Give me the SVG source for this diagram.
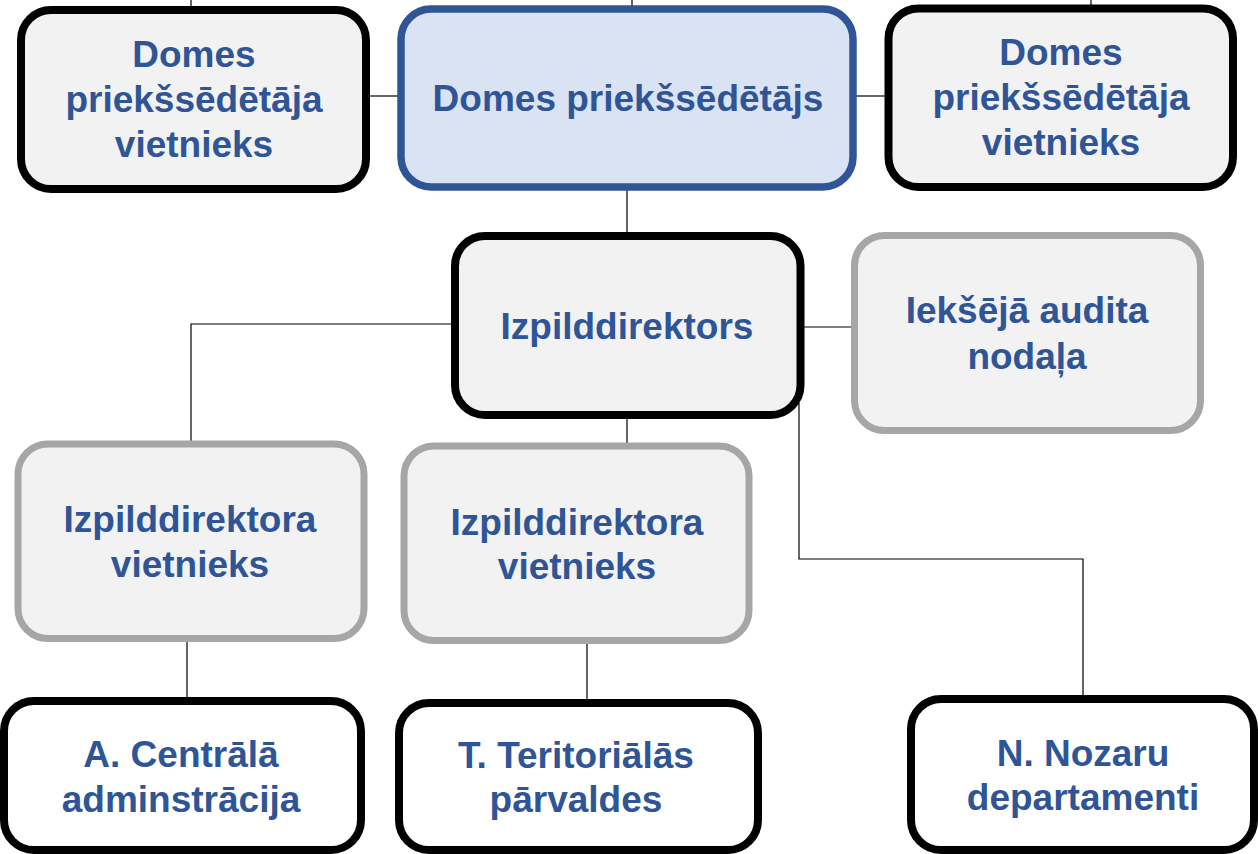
<svg xmlns="http://www.w3.org/2000/svg" width="1258" height="854" viewBox="0 0 1258 854">
<style>
.box{stroke-width:8}
.blk{stroke:#000}
.gry{stroke:#a6a6a6;stroke-width:7}
.blu{stroke:#2f5597;stroke-width:7.5}
.f1{fill:#f2f2f2}
.f2{fill:#dae3f3}
.f3{fill:#ffffff}
.t{font-family:"Liberation Sans",Arial,sans-serif;font-weight:bold;font-size:37px;fill:#2f5597;text-anchor:middle}
.c{fill:none;stroke:#000;stroke-width:1.2}
</style>
<rect width="1258" height="854" fill="#fff"/>
<g id="connectors">
<path class="c" d="M191 0V7"/>
<path class="c" d="M632 0V6"/>
<path class="c" d="M1091 0V5"/>
<path class="c" d="M369 96H398"/>
<path class="c" d="M856 96H885"/>
<path class="c" d="M627 190V233"/>
<path class="c" d="M452 324H191V441"/>
<path class="c" d="M803 327H852"/>
<path class="c" d="M627 418V443"/>
<path class="c" d="M799 403V559H1083V696"/>
<path class="c" d="M187 641V698"/>
<path class="c" d="M587 643V700"/>
</g>
<g id="node-vice1">
<rect class="box blk f1" x="21" y="10" width="345" height="179" rx="30"/>
<text class="t" x="194" y="67">Domes</text>
<text class="t" x="194" y="112">priekšsēdētāja</text>
<text class="t" x="194" y="157">vietnieks</text>
</g>
<g id="node-chair">
<rect class="box blu f2" x="401" y="9" width="452" height="178" rx="30"/>
<text class="t" x="628" y="111">Domes priekšsēdētājs</text>
</g>
<g id="node-vice2">
<rect class="box blk f1" x="888.5" y="8.5" width="344.5" height="178.5" rx="30"/>
<text class="t" x="1061" y="65">Domes</text>
<text class="t" x="1061" y="110">priekšsēdētāja</text>
<text class="t" x="1061" y="155">vietnieks</text>
</g>
<g id="node-director">
<rect class="box blk f1" x="455" y="236" width="345.5" height="179" rx="30"/>
<text class="t" x="627" y="339">Izpilddirektors</text>
</g>
<g id="node-audit">
<rect class="box gry f1" x="854.5" y="235.5" width="346" height="195" rx="30"/>
<text class="t" x="1027" y="323">Iekšējā audita</text>
<text class="t" x="1027" y="369">nodaļa</text>
</g>
<g id="node-deputy1">
<rect class="box gry f1" x="18" y="444" width="346" height="194.5" rx="30"/>
<text class="t" x="190" y="532">Izpilddirektora</text>
<text class="t" x="190" y="577">vietnieks</text>
</g>
<g id="node-deputy2">
<rect class="box gry f1" x="404" y="446" width="345" height="194.5" rx="30"/>
<text class="t" x="577" y="535">Izpilddirektora</text>
<text class="t" x="577" y="579">vietnieks</text>
</g>
<g id="node-a">
<rect class="box blk f3" x="4" y="701" width="357" height="149" rx="30"/>
<text class="t" x="181" y="767">A. Centrālā</text>
<text class="t" x="181" y="812">adminstrācija</text>
</g>
<g id="node-t">
<rect class="box blk f3" x="399" y="703" width="359" height="147" rx="30"/>
<text class="t" x="576" y="768">T. Teritoriālās</text>
<text class="t" x="576" y="812">pārvaldes</text>
</g>
<g id="node-n">
<rect class="box blk f3" x="911" y="699" width="343" height="151" rx="30"/>
<text class="t" x="1083" y="766">N. Nozaru</text>
<text class="t" x="1083" y="810">departamenti</text>
</g>
</svg>
